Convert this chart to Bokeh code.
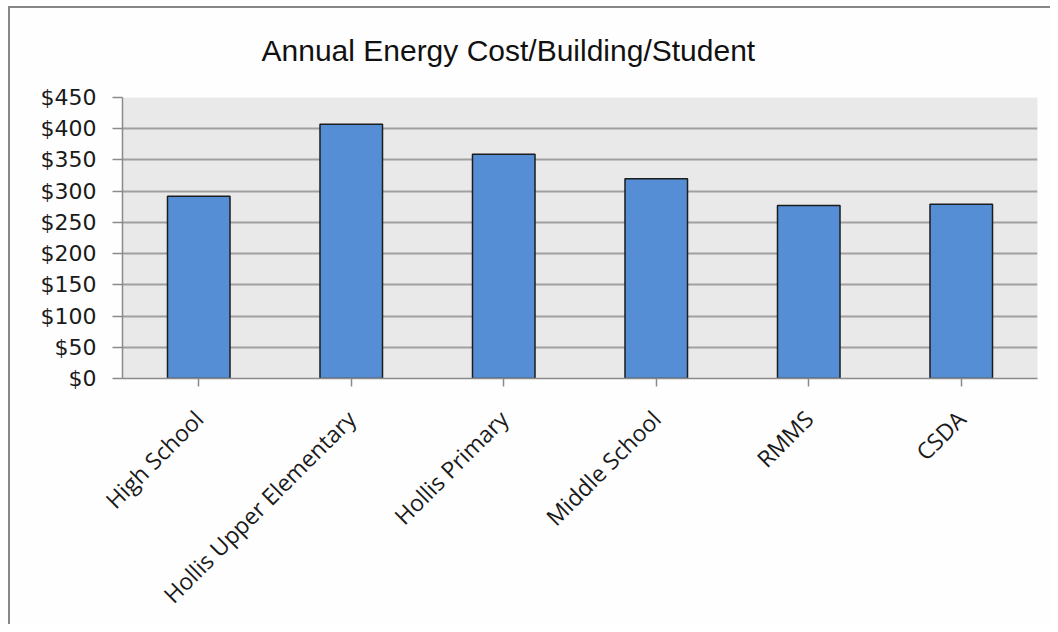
import math
from bokeh.plotting import figure
from bokeh.models import ColumnDataSource, FixedTicker, NumeralTickFormatter, FactorRange, Range1d
from bokeh.embed import file_html
from bokeh.resources import INLINE

categories = ["High School", "Hollis Upper Elementary", "Hollis Primary",
              "Middle School", "RMMS", "CSDA"]
costs = [292, 407, 359, 320, 277, 279]
y_ticks = [0, 50, 100, 150, 200, 250, 300, 350, 400, 450]
title_text = "Annual Energy Cost/Building/Student"

src = ColumnDataSource(data=dict(cat=categories, cost=costs))

p = figure(
    width=1050, height=624,
    x_range=FactorRange(*categories, range_padding=0),
    y_range=Range1d(0, 450),
    output_backend="svg", toolbar_location=None,
    min_border_left=122, min_border_right=13, min_border_top=97, min_border_bottom=246,
)
p.border_fill_alpha = 0
p.styles = {
    "background": ("linear-gradient(#878787,#878787) 8px 6px / 100% 2px no-repeat, "
                   "linear-gradient(#878787,#878787) 8px 6px / 2px 100% no-repeat, #fefefe"),
}

p.title.text = title_text
p.title.text_font = "Liberation Sans"
p.title.text_font_size = "30px"
p.title.text_font_style = "normal"
p.title.text_color = "#111111"
p.title.align = "left"
p.title.offset = 139
p.title.standoff = 61

p.background_fill_color = "#e9e9e9"
p.outline_line_color = None

p.vbar(x="cat", top="cost", width=0.41, source=src,
       fill_color="#558ed5", line_color="#1c1c1c", line_width=1.5)

p.ygrid.ticker = FixedTicker(ticks=y_ticks)
p.ygrid.grid_line_color = "#a0a0a0"
p.ygrid.grid_line_width = 2
p.xgrid.grid_line_color = None

ya = p.yaxis[0]
ya.ticker = FixedTicker(ticks=y_ticks)
ya.formatter = NumeralTickFormatter(format="$0")
ya.axis_line_color = "#8a8a8a"
ya.axis_line_width = 1.5
ya.major_tick_line_color = "#8a8a8a"
ya.major_tick_line_width = 1.5
ya.major_tick_out = 10
ya.major_tick_in = 0
ya.minor_tick_line_color = None
ya.major_label_text_font = "DejaVu Sans"
ya.major_label_text_font_size = "22px"
ya.major_label_text_color = "#1a1a1a"
ya.major_label_standoff = 16

xa = p.xaxis[0]
xa.axis_line_color = "#8a8a8a"
xa.axis_line_width = 1.5
xa.major_tick_line_color = "#8a8a8a"
xa.major_tick_line_width = 1.5
xa.major_tick_out = 8
xa.major_tick_in = 0
xa.major_label_orientation = math.pi / 4
xa.major_label_text_font = "Open Sans"
xa.major_label_text_font_size = "23px"
xa.major_label_text_color = "#1a1a1a"
xa.major_label_standoff = 28

open("out.html", "w").write(file_html(p, INLINE))
